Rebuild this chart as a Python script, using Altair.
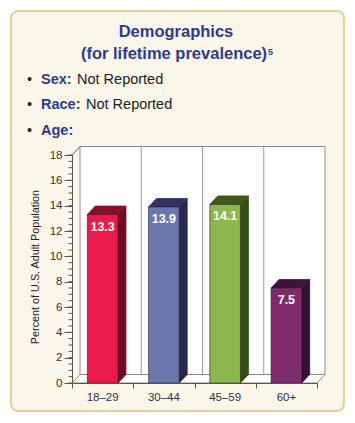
import altair as alt
import pandas as pd

# ---- data ----
CATEGORIES = ["18–29", "30–44", "45–59", "60+"]
VALUES = [13.3, 13.9, 14.1, 7.5]
FRONT_COLORS = ["#ea1b4c", "#6b77ad", "#8cb64e", "#7f2a6b"]
TOP_COLORS = ["#86102b", "#33335f", "#3f5a1c", "#3f1439"]
SIDE_COLORS = ["#6e0b22", "#28284d", "#324d16", "#331030"]
Y_TICKS = [0, 2, 4, 6, 8, 10, 12, 14, 16, 18]
MINOR_TICKS = [k * 0.5 for k in range(37)]
X_TICKS = [0, 1, 2, 3, 4]
Y_MAX = 18

# 3D depth in data units (about 8 px right, 8.5 px up)
DX = 8 / 61.25
DY = 8.5 / (228 / 18)
HALF = 0.25

FONT = "Liberation Sans"
BLUE = "#2e3a8e"

# ---- derived tables ----
n = len(CATEGORIES)
bars = pd.DataFrame({
    "cat": CATEGORIES,
    "value": VALUES,
    "xc": [i + 0.5 for i in range(n)],
    "x0": [i + 0.5 - HALF for i in range(n)],
    "x1": [i + 0.5 + HALF for i in range(n)],
    "front": FRONT_COLORS,
})
side_rows, top_rows = [], []
for i, (c, v) in enumerate(zip(CATEGORIES, VALUES)):
    r = i + 0.5 + HALF
    l = i + 0.5 - HALF
    side_rows += [
        {"cat": c, "x": r, "y0": 0, "y1": v, "col": SIDE_COLORS[i]},
        {"cat": c, "x": r + DX, "y0": DY, "y1": v + DY, "col": SIDE_COLORS[i]},
    ]
    top_rows += [
        {"cat": c, "y": v, "xa": l, "xb": r, "col": TOP_COLORS[i]},
        {"cat": c, "y": v + DY, "xa": l + DX, "xb": r + DX, "col": TOP_COLORS[i]},
    ]
side = pd.DataFrame(side_rows)
top = pd.DataFrame(top_rows)

wall = pd.DataFrame([{"x0": X_TICKS[0] + DX, "x1": X_TICKS[-1] + DX, "y0": DY, "y1": Y_MAX + DY}])
wall_grid = pd.DataFrame({"gx": [t + DX for t in X_TICKS[1:-1]], "y0": DY, "y1": Y_MAX + DY})
floor = pd.DataFrame([
    {"y": 0, "xa": X_TICKS[0], "xb": X_TICKS[-1]},
    {"y": DY, "xa": X_TICKS[0] + DX, "xb": X_TICKS[-1] + DX},
])
left_edge = pd.DataFrame([{"x": 0, "y": Y_MAX, "o": 0}, {"x": DX, "y": Y_MAX + DY, "o": 1}])
minor = pd.DataFrame({"v": MINOR_TICKS})
one = pd.DataFrame([{"a": 1}])

xs = alt.Scale(domain=[X_TICKS[0], X_TICKS[-1]], nice=False, zero=False)
ys = alt.Scale(domain=[0, Y_MAX], nice=False)
AX = alt.Axis(values=X_TICKS, labels=False, tickSize=5, title=None, grid=False,
              domainColor="#555", tickColor="#555", zindex=2)
AY = alt.Axis(values=Y_TICKS, tickSize=8, title=None, grid=False, labelFontSize=11.5,
              labelColor="#333", labelFont=FONT, labelPadding=2,
              domainColor="#555", tickColor="#555", zindex=2)


def X(f, **kw):
    return alt.X(f, type="quantitative", scale=xs, axis=AX, **kw)


def Y(f, **kw):
    return alt.Y(f, type="quantitative", scale=ys, axis=AY, **kw)


# card background (offsets relative to the plot origin)
card = alt.Chart(one).mark_rect(
    fill="#faf6ea", stroke="#e6cf9c", strokeWidth=2.2, cornerRadius=7
).encode(x=alt.value(-61), x2=alt.value(272), y=alt.value(-144), y2=alt.value(256))

title1 = alt.Chart(one).mark_text(
    text="Demographics", font=FONT, fontSize=16.5, fontWeight="bold", color=BLUE,
    align="center", baseline="alphabetic"
).encode(x=alt.value(104), y=alt.value(-118))
title2 = alt.Chart(one).mark_text(
    text="(for lifetime prevalence)", font=FONT, fontSize=16.5, fontWeight="bold", color=BLUE,
    align="center", baseline="alphabetic"
).encode(x=alt.value(102), y=alt.value(-96))
sup = alt.Chart(one).mark_text(
    text="5", font=FONT, fontSize=9, fontWeight="bold", color=BLUE,
    align="left", baseline="alphabetic"
).encode(x=alt.value(196), y=alt.value(-100))

bullet_items = [("Sex:", "Not Reported", -71, 5), ("Race:", "Not Reported", -46, 14), ("Age:", "", -20, 0)]
text_layers = []
for lab, rest, yy, xr in bullet_items:
    text_layers.append(alt.Chart(one).mark_text(
        text="•", font=FONT, fontSize=14.5, color="#222", align="left", baseline="alphabetic"
    ).encode(x=alt.value(-45), y=alt.value(yy)))
    text_layers.append(alt.Chart(one).mark_text(
        text=lab, font=FONT, fontSize=14.5, fontWeight="bold", color=BLUE, align="left",
        baseline="alphabetic"
    ).encode(x=alt.value(-31), y=alt.value(yy)))
    if rest:
        text_layers.append(alt.Chart(one).mark_text(
            text=rest, font=FONT, fontSize=14.5, color="#222", align="left", baseline="alphabetic"
        ).encode(x=alt.value(xr), y=alt.value(yy)))

ytitle = alt.Chart(one).mark_text(
    text="Percent of U.S. Adult Population", font=FONT, fontSize=10.8, color="#222",
    angle=270, align="center", baseline="middle"
).encode(x=alt.value(-36), y=alt.value(112))

wall_l = alt.Chart(wall).mark_rect(fill="white", stroke="#8a8a8a", strokeWidth=1).encode(
    x=X("x0"), x2="x1", y=Y("y0"), y2="y1")
grid_l = alt.Chart(wall_grid).mark_rule(color="#9a9a9a", strokeWidth=1).encode(
    x=X("gx"), y=Y("y0"), y2="y1")
floor_l = alt.Chart(floor).mark_area(orient="horizontal", fill="white", stroke="#8a8a8a",
                                     strokeWidth=1).encode(
    y=Y("y"), x=X("xa", stack=None), x2="xb")
edge_l = alt.Chart(left_edge).mark_line(color="#555", strokeWidth=1).encode(
    x=X("x"), y=Y("y"), order="o:Q")
minor_l = alt.Chart(minor).mark_rule(color="#555", strokeWidth=1).encode(
    y=Y("v"), x=alt.value(-3.5), x2=alt.value(0))

side_l = alt.Chart(side).mark_area(orient="vertical", strokeWidth=0.8).encode(
    x=X("x"), y=Y("y0", stack=None), y2="y1",
    detail="cat:N", fill=alt.Fill("col:N", scale=None), stroke=alt.Stroke("col:N", scale=None))
top_l = alt.Chart(top).mark_area(orient="horizontal", strokeWidth=0.8).encode(
    y=Y("y"), x=X("xa", stack=None), x2="xb",
    detail="cat:N", fill=alt.Fill("col:N", scale=None), stroke=alt.Stroke("col:N", scale=None))
front_l = alt.Chart(bars).mark_rect(stroke="#2a1a1a", strokeWidth=0.8, strokeOpacity=0.7).encode(
    x=X("x0"), x2="x1", y=Y("value"), y2=alt.datum(0),
    fill=alt.Fill("front:N", scale=None))
val_l = alt.Chart(bars).mark_text(
    font=FONT, fontSize=12.5, fontWeight="bold", color="white", baseline="middle", dy=12
).encode(x=X("xc"), y=Y("value"), text=alt.Text("value:Q", format=".1f"))
cat_l = alt.Chart(bars).mark_text(font=FONT, fontSize=11.5, color="#333", baseline="middle").encode(
    x=X("xc"), y=alt.value(243), text="cat:N")

chart = alt.layer(
    card, title1, title2, sup, *text_layers, ytitle,
    wall_l, grid_l, floor_l, edge_l, minor_l,
    side_l, top_l, front_l, val_l, cat_l,
).properties(
    width=245, height=228,
    autosize=alt.AutoSizeParams(type="none"),
    padding={"left": 64, "top": 147, "right": 30, "bottom": 32},
    background="white",
).configure_view(stroke=None)

chart.save("out.html", embed_options={"renderer": "svg", "actions": False})
